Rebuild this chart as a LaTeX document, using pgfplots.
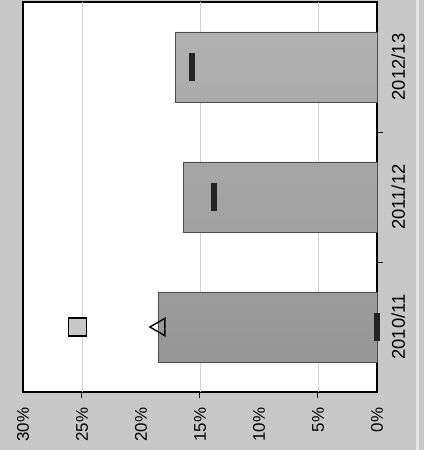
\documentclass[border=0pt]{standalone}
\usepackage{pgfplots}
\pgfplotsset{compat=1.18}
\usepackage{fontspec}
\setmainfont{Liberation Sans}
\definecolor{bggray}{RGB}{200,200,200}
\definecolor{bargray}{RGB}{163,163,163}
\definecolor{bardark}{RGB}{150,150,150}
\definecolor{dashcol}{RGB}{35,35,35}

\begin{document}
\begin{tikzpicture}
  \useasboundingbox (-23bp,-58bp) rectangle (401bp,392bp);
  \fill[bggray] (-23bp,-58bp) rectangle (401bp,392bp);
  \fill[gray!20] (393bp,-58bp) rectangle (396bp,392bp);
  \begin{axis}[
      scale only axis,
      width=354bp, height=390bp,
      xbar, bar width=70bp,
      x dir=reverse,
      xmin=0, xmax=30,
      ymin=-0.5, ymax=2.5,
      axis background/.style={fill=white},
      axis line style={black, line width=1.2pt},
      xtick={0,5,...,30},
      xticklabels={0\%,5\%,10\%,15\%,20\%,25\%,30\%},
      ytick={0,1,2},
      yticklabels={2010/11,2011/12,2012/13},
      yticklabel pos=right,
      major tick length=0pt,
      extra x ticks={5,15,25},
      extra x tick labels={},
      extra x tick style={grid=major, major grid style={gray!35, line width=0.6pt},
        major tick length=6bp, tick style={black, line width=1pt}, tick align=outside},
      extra y ticks={0.5,1.5},
      extra y tick labels={},
      extra y tick style={major tick length=6bp, tick style={black, line width=1pt}, tick align=outside},
      xtick pos=bottom,
      ytick pos=right,
      tick label style={/pgf/number format/assume math mode=true},
      xticklabel style={font=\fontsize{17}{20}\selectfont, rotate=90, anchor=east},
      yticklabel style={font=\fontsize{18.5}{20}\selectfont, rotate=90, anchor=north},
      xticklabel shift=12bp,
      yticklabel shift=11bp,
      clip=false,
    ]
    \addplot[draw=black!70, line width=0.8pt, top color=bargray!85, bottom color=bardark] coordinates {
      (18.5,0) (16.4,1) (17.1,2)
    };
    \addplot[only marks, mark=|, mark size=14bp, mark options={line width=6bp, dashcol}] coordinates {
      (0,0) (13.8,1) (15.7,2)
    };
    \addplot[only marks, mark=triangle, mark size=10bp, mark options={rotate=90, draw=black, fill=bargray!50, line width=1.4pt}] coordinates {
      (18.4,0)
    };
    \addplot[only marks, mark=square*, mark size=9bp, mark options={draw=black, fill=bggray, line width=1.4pt}] coordinates {
      (25.4,0)
    };
  \end{axis}
\end{tikzpicture}
\end{document}
